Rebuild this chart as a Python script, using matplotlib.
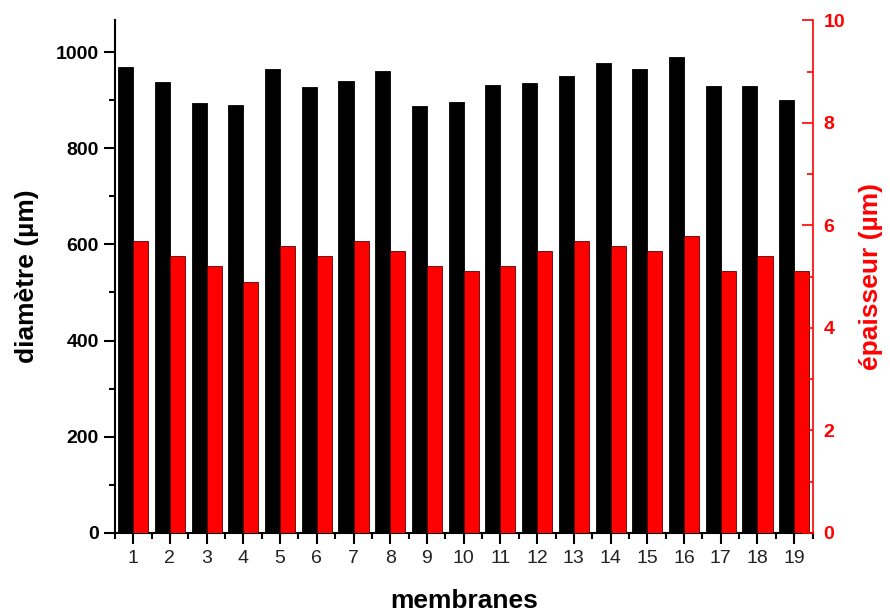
import numpy as np
import matplotlib.pyplot as plt
from matplotlib.ticker import MultipleLocator

plt.rcParams['font.family'] = ['Liberation Sans', 'DejaVu Sans']

membranes = list(range(1, 20))
diametre = [968, 937, 895, 889, 965, 927, 940, 960, 887, 897,
            932, 936, 951, 977, 964, 989, 929, 929, 901]
epaisseur = [5.7, 5.4, 5.2, 4.9, 5.6, 5.4, 5.7, 5.5, 5.2, 5.1,
             5.2, 5.5, 5.7, 5.6, 5.5, 5.8, 5.1, 5.4, 5.1]

RED = "#ff0000"
W = 0.41

fig = plt.figure(figsize=(8.9, 6.16), dpi=100)
ax = fig.add_axes([0.129, 0.135, 0.784, 0.832])
ax2 = ax.twinx()

x = np.array(membranes)
ax.bar(x - W / 2, diametre, width=W, color="black", edgecolor="black", linewidth=0.6)
ax2.bar(x + W / 2, epaisseur, width=W, color=RED, edgecolor="#600000", linewidth=0.6)

ax.set_xlim(0.5, 19.5)
ax.set_ylim(0, 1066)
ax2.set_ylim(0, 10)

ax.set_xticks(membranes)
ax.xaxis.set_minor_locator(MultipleLocator(0.5))
ax.yaxis.set_major_locator(MultipleLocator(200))
ax.yaxis.set_minor_locator(MultipleLocator(100))
ax2.yaxis.set_major_locator(MultipleLocator(2))
ax2.yaxis.set_minor_locator(MultipleLocator(1))

for a in (ax, ax2):
    a.spines['top'].set_visible(False)
ax.spines['right'].set_visible(False)
ax2.spines['left'].set_visible(False)
ax2.spines['bottom'].set_visible(False)
ax.spines['left'].set_linewidth(1.5)
ax.spines['bottom'].set_linewidth(1.5)
ax2.spines['right'].set_color(RED)
ax2.spines['right'].set_linewidth(1.2)

ax.tick_params(axis='x', which='major', direction='out', length=8, width=1.5,
               labelsize=14, pad=4, labelcolor="#222222")
ax.tick_params(axis='x', which='minor', direction='out', length=4, width=1.5)
ax.tick_params(axis='y', which='major', direction='out', length=8, width=1.5,
               labelsize=14)
ax.tick_params(axis='y', which='minor', direction='out', length=4, width=1.5)
ax2.tick_params(axis='y', which='major', direction='in', length=8, width=1.2,
                color=RED, labelcolor=RED, labelsize=14, pad=8)
ax2.tick_params(axis='y', which='minor', direction='in', length=4, width=1.2,
                color=RED)
for lab in ax.get_yticklabels() + ax2.get_yticklabels():
    lab.set_fontweight('bold')

ax.set_xlabel("membranes", fontsize=19, fontweight='bold', labelpad=16)
ax.set_ylabel("diamètre (µm)", fontsize=19, fontweight='bold', labelpad=12)
ax2.set_ylabel("épaisseur (µm)", fontsize=19, fontweight='bold', color=RED,
               labelpad=10)

fig.savefig("out.png", dpi=100)
